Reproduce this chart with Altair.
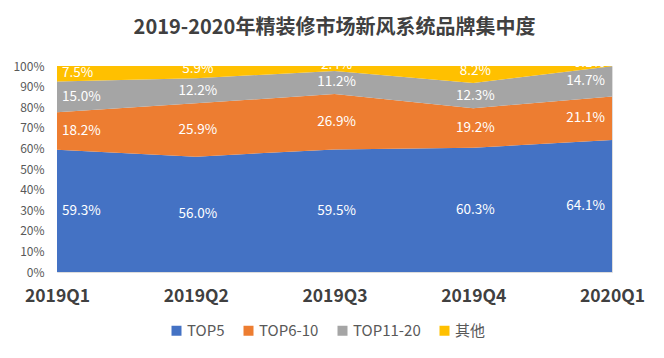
import altair as alt
import pandas as pd

quarters = ["2019Q1", "2019Q2", "2019Q3", "2019Q4", "2020Q1"]
series = ["TOP5", "TOP6-10", "TOP11-20", "其他"]
top5 = [59.3, 56.0, 59.5, 60.3, 64.1]
top6_10 = [18.2, 25.9, 26.9, 19.2, 21.1]
top11_20 = [15.0, 12.2, 11.2, 12.3, 14.7]
others = [7.5, 5.9, 2.4, 8.2, 0.1]
colors = ["#4472C4", "#ED7D31", "#A5A5A5", "#FFC000"]

rows = []
for si, (name, vals) in enumerate(zip(series, [top5, top6_10, top11_20, others])):
    for qi, (q, v) in enumerate(zip(quarters, vals)):
        rows.append({"quarter": q, "series": name, "order": si, "qi": qi, "value": v / 100})
df = pd.DataFrame(rows)

FONT = "Noto Sans CJK SC"

base = alt.Chart(df).transform_stack(
    stack="value", groupby=["quarter"], as_=["y0", "y1"],
    sort=[alt.SortField(field="order", order="ascending")]
).transform_calculate(
    mid="(datum.y0 + datum.y1) / 2",
    label="format(datum.value * 100, '.1f') + '%'"
)

x_axis = alt.Axis(title=None, labelAngle=0, labelFontSize=17.5, labelFontWeight="bold",
                  labelColor="#404040", labelPadding=15, ticks=False, domain=False,
                  grid=False, labelFont=FONT, labelOverlap=False)
y_axis = alt.Axis(title=None, format=".0%", values=[i / 10 for i in range(11)],
                  labelFontSize=12, labelColor="#595959", labelPadding=13,
                  labelOverlap=False, ticks=False, domain=False, grid=False,
                  labelFont=FONT)
x_scale = alt.Scale(padding=0)
y_scale = alt.Scale(domain=[0, 1])

area = base.mark_area(opacity=1).encode(
    x=alt.X("quarter:N", sort=quarters, scale=x_scale, axis=x_axis),
    y=alt.Y("y0:Q", scale=y_scale, axis=y_axis),
    y2="y1:Q",
    color=alt.Color("series:N", sort=series,
                    scale=alt.Scale(domain=series, range=colors),
                    legend=alt.Legend(title=None, orient="none", direction="horizontal",
                                      legendX=112, legendY=257, symbolType="square",
                                      symbolSize=100, labelFontSize=15, labelColor="#595959",
                                      columnPadding=16, labelOffset=3, labelFont=FONT,
                                      symbolStrokeWidth=0)),
    order=alt.Order("order:Q"),
)

def labels(filt, align, dx, dy):
    return base.transform_filter(filt).mark_text(
        align=align, dx=dx, dy=dy, baseline="middle", fontSize=13.5, color="white", font=FONT
    ).encode(
        x=alt.X("quarter:N", sort=quarters, scale=x_scale, axis=x_axis),
        y=alt.Y("mid:Q", scale=y_scale, axis=y_axis),
        text="label:N",
    )

low = "datum.order < 3"
top = "datum.order == 3"
chart = alt.layer(
    area,
    labels(f"datum.qi == 0 && {low}", "left", 5, 0),
    labels(f"datum.qi > 0 && datum.qi < 4 && {low}", "center", 2, 0),
    labels(f"datum.qi == 4 && {low}", "right", -7, 0),
    labels(f"datum.qi == 0 && {top}", "left", 5, -1),
    labels(f"datum.qi > 0 && datum.qi < 4 && {top}", "center", 2, -3),
    labels(f"datum.qi == 4 && {top}", "right", -7, -3),
).properties(
    width=555, height=206,
    title=alt.TitleParams("2019-2020年精装修市场新风系统品牌集中度", fontSize=20,
                          fontWeight="bold", color="#404040", font=FONT, offset=18),
    autosize=alt.AutoSizeParams(type="none"),
    padding={"left": 49, "top": 58, "right": 44, "bottom": 78},
).configure_view(stroke=None).configure(background="white")

chart.save("out.html", embed_options={"renderer": "svg", "actions": False})
